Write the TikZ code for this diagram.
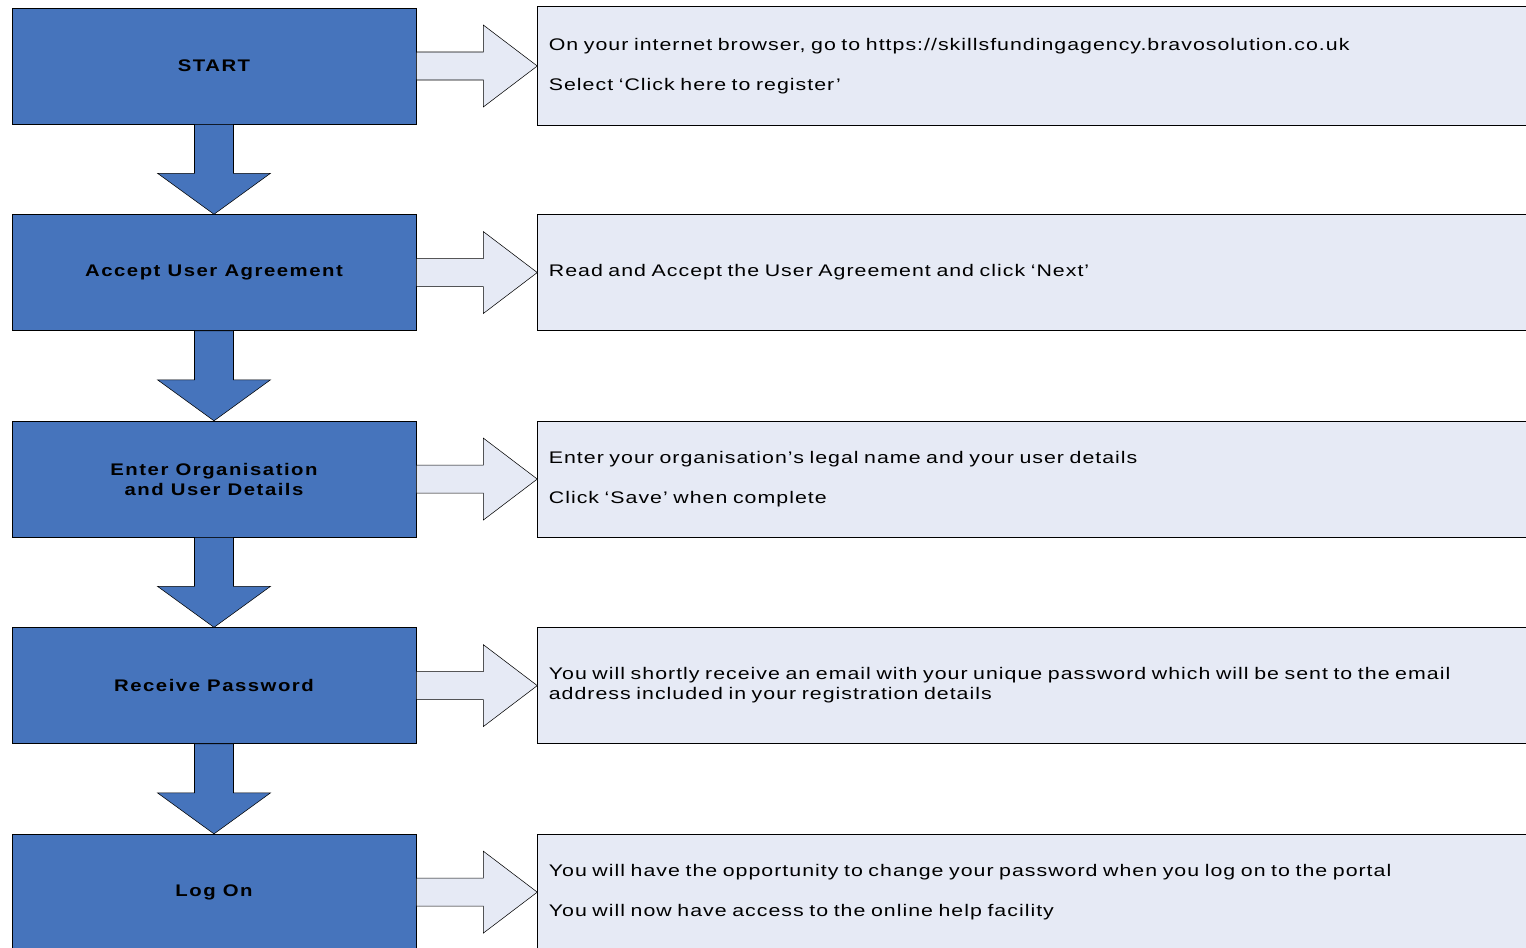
\documentclass[tikz,border=0pt]{standalone}
\usepackage{fontspec}
\setmainfont{Liberation Sans}[FakeStretch=1.27, LetterSpace=6]
\newfontfamily\stepfont{Liberation Sans}[FakeStretch=1.21, LetterSpace=9]
\usepackage{tikz}
\usetikzlibrary{positioning}

\definecolor{stepblue}{RGB}{70,116,188}
\definecolor{notefill}{RGB}{230,234,245}

\begin{document}
\begin{tikzpicture}[
    x=0.75pt, y=-0.75pt,
    node distance=67.5pt and 90.75pt,
    stepbox/.style={draw, fill=stepblue, minimum width=303pt, minimum height=87pt,
        align=center, inner sep=0pt, font=\stepfont\fontsize{12.6}{15}\selectfont\bfseries},
    notebox/.style={draw, fill=notefill, minimum width=825pt, minimum height=87pt,
        text width=808pt, inner xsep=8.25pt, align=left, font=\fontsize{12.6}{15}\selectfont},
    downarrow/.style={draw, fill=stepblue, line join=miter},
    sidearrow/.style={draw, fill=notefill, line join=miter}
]
\useasboundingbox (0,0) rectangle (1526,947);
\clip (0,0) rectangle (1526,947);

% steps on the left
\node[stepbox] (start) at (214,66) {START};
\node[stepbox, below=of start] (accept) {Accept User Agreement};
\node[stepbox, below=of accept] (details) {Enter Organisation\\and User Details};
\node[stepbox, below=of details] (password) {Receive Password};
\node[stepbox, below=of password] (logon) {Log On};

% notes on the right
\node[notebox, minimum height=89.25pt, right=of start] (browse) {On your internet browser, go to https://skillsfundingagency.bravosolution.co.uk\\[15pt]Select `Click here to register'};
\node[notebox, right=of accept] (agree) {Read and Accept the User Agreement and click `Next'};
\node[notebox, right=of details] (orgname) {Enter your organisation's legal name and your user details\\[15pt]Click `Save' when complete};
\node[notebox, right=of password] (email) {You will shortly receive an email with your unique password which will be sent to the email\\address included in your registration details};
\node[notebox, right=of logon] (portal) {You will have the opportunity to change your password when you log on to the portal\\[15pt]You will now have access to the online help facility};

% arrows down
\foreach \a/\b in {start/accept, accept/details, details/password, password/logon}
  \draw[downarrow] (\a.south) ++(-19.5,0) -- ++(0,49) -- ++(-37,0) -- (\b.north)
    -- ++(56.5,-41) -- ++(-37,0) -- ++(0,-49) -- cycle;

% arrows across
\foreach \a/\b in {start/browse, accept/agree, details/orgname, password/email, logon/portal}
  \draw[sidearrow] (\a.east) ++(0,-14) -- ++(67,0) -- ++(0,-27) -- (\b.west)
    -- ++(-54,41) -- ++(0,-27) -- ++(-67,0) -- cycle;
\end{tikzpicture}
\end{document}
